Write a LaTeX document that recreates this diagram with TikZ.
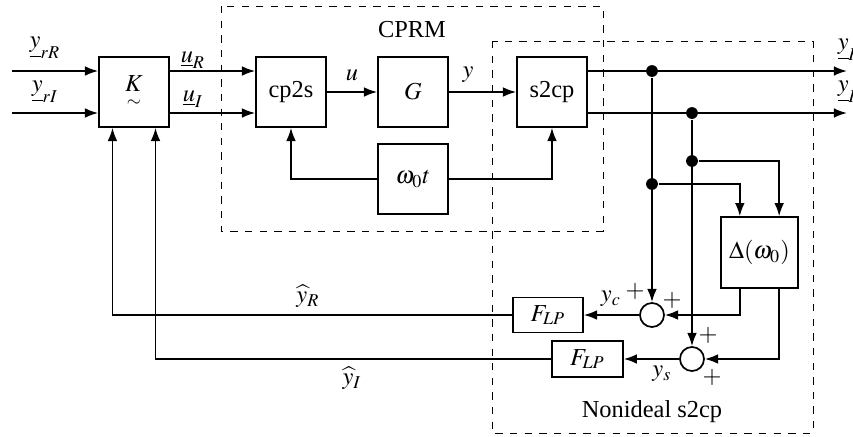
\documentclass[tikz,border=0pt]{standalone}
\usepackage{amsmath}
\usepackage{mathptmx}
\usepackage[no-math]{fontspec}
\setmainfont{Liberation Serif}
\usetikzlibrary{calc,arrows.meta}
\tikzset{
  blk/.style={draw,minimum width=10.08mm,minimum height=10.08mm,inner sep=0pt},
  sumc/.style={draw,circle,minimum size=3.46mm,inner sep=0pt},
  dot/.style={fill,circle,inner sep=0pt,minimum size=1.7mm},
  lbl/.style={inner sep=0pt}
}
\begin{document}
\begin{tikzpicture}[x=1.44mm,y=-1.44mm,line width=0.7pt,>={Latex[length=1.9mm,width=1.4mm]}]
	\useasboundingbox (0,0) rectangle (85.3,43.7);
	% dashed frames
	\draw[thin,dashed] (22.1,0.6) rectangle (60.3,23.1);
	\draw[thin,dashed] (49.2,4.1) rectangle (81.3,43.3);
	\node[lbl] (cprm) at (41.2,3.0) {CPRM};
	\node[lbl] (nonid) at (65.2,41.2) {Nonideal s2cp};
	% blocks
	\node[blk] (K) at (13.4,9.2) {$\underset{\sim}{K}$};
	\node[blk] (cp2s) at (29.1,9.2) {cp2s};
	\node[blk] (G) at (41.3,9.2) {$G$};
	\node[blk] (s2cp) at (55.2,9.2) {s2cp};
	\node[blk] (wt) at (41.3,17.9) {$\omega_0 t$};
	\node[blk,minimum width=11.09mm,minimum height=10.2mm] (Delta) at (75.95,25.25) {$\Delta(\omega_0)$};
	\node[blk,minimum height=5.04mm] (Flpc) at (54.8,31.5) {$F_{LP}$};
	\node[blk,minimum width=10.2mm,minimum height=5.2mm] (Flps) at (58.75,35.9) {$F_{LP}$};
	\node[sumc] (sumc) at (65.2,31.5) {};
	\node[sumc] (sums) at (69.2,35.9) {};
	% inputs and outputs
	\coordinate (inR) at (1.2,7.1);
	\coordinate (inI) at (1.2,11.3);
	\coordinate (outR) at (84.7,7.1);
	\coordinate (outI) at (84.7,11.3);
	\node[dot] (dR) at (65.2,7.1) {};
	\node[dot] (dI) at (69.2,11.3) {};
	\node[dot] (dR2) at (65.2,18.4) {};
	\node[dot] (dI2) at (69.2,16.1) {};
	\draw[->] (inR) -- (inR-|K.west);
	\draw[->] (inI) -- (inI-|K.west);
	\draw[->] (K.east|-inR) -- (cp2s.west|-inR);
	\draw[->] (K.east|-inI) -- (cp2s.west|-inI);
	\draw[->] (cp2s.east) -- (G.west);
	\draw[->] (G.east) -- (s2cp.west);
	\draw[->] (wt.west) -| (cp2s.south);
	\draw[->] (wt.east) -| (s2cp.south);
	\draw[->] (s2cp.east|-outR) -- (outR);
	\draw[->] (s2cp.east|-outI) -- (outI);
	% nonideal demodulation
	\draw[->] (dR) -- (sumc.north);
	\draw[->] (dI) -- (sums.north);
	\draw[->] (dR2) -| ($(Delta.north west)!.25!(Delta.north east)$);
	\draw[->] (dI2) -| ($(Delta.north west)!.75!(Delta.north east)$);
	\draw[->] ($(Delta.south west)!.25!(Delta.south east)$) |- (sumc.east);
	\draw[->] ($(Delta.south west)!.75!(Delta.south east)$) |- (sums.east);
	\draw[->] (sumc.west) -- (Flpc.east);
	\draw[->] (sums.west) -- (Flps.east);
	\draw[->] (Flpc.west) -| ($(K.south west)!.2!(K.south east)$);
	\draw[->] (Flps.west) -| ($(K.south west)!.8!(K.south east)$);
	% labels
	\node[lbl] (lyrR) at (4.5,4.8) {$\underline{y}_{rR}$};
	\node[lbl] (lyrI) at (4.5,9.2) {$\underline{y}_{rI}$};
	\node[lbl] (luR) at (19.3,6.0) {$\underline{u}_R$};
	\node[lbl] (luI) at (19.3,9.9) {$\underline{u}_I$};
	\node[lbl] (lu) at (35.2,7.5) {$u$};
	\node[lbl] (ly) at (46.8,7.5) {$y$};
	\node[lbl,anchor=west] (lyR) at (83.7,5.0) {$\underline{y}_R$};
	\node[lbl,anchor=west] (lyI) at (83.7,9.2) {$\underline{y}_I$};
	\node[lbl] (lhR) at (30.8,29.6) {$\widehat{y}_R$};
	\node[lbl] (lhI) at (35.2,37.8) {$\widehat{y}_I$};
	\node[lbl] (lyc) at (61.1,29.9) {$y_c$};
	\node[lbl] (lys) at (66.2,37.4) {$y_s$};
	\node[lbl] (p1) at (63.5,29.1) {$+$};
	\node[lbl] (p2) at (67.2,30.0) {$+$};
	\node[lbl] (p3) at (70.8,33.5) {$+$};
	\node[lbl] (p4) at (71.2,37.7) {$+$};
\end{tikzpicture}
\end{document}
